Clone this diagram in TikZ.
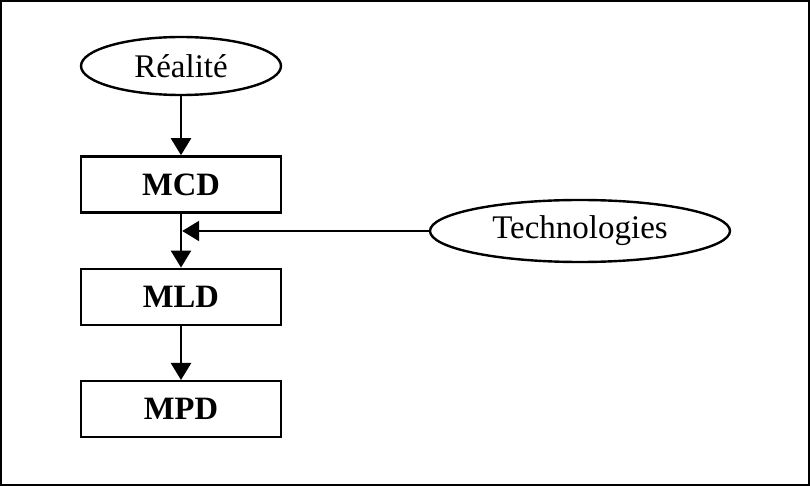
\documentclass[tikz,border=0pt]{standalone}
\usepackage{fontspec}
\setmainfont{Liberation Serif}
\usetikzlibrary{positioning, arrows.meta, shapes}
\tikzset{>={Triangle[length=8.5pt,width=10pt]}}
\tikzset{
    modele/.style={draw, line width=1.2pt, minimum width=100pt, minimum height=28pt, inner sep=0pt, font=\fontsize{16.3}{19}\selectfont\bfseries},
    source/.style={draw, ellipse, line width=1.2pt, inner sep=0pt, font=\fontsize{16.5}{19}\selectfont},
    fleche/.style={->, line width=1.2pt}
}

\begin{document}
\begin{tikzpicture}[x=1pt, y=1pt, node distance=27pt]
    \useasboundingbox (0,0) rectangle (405,-243);
    \draw[line width=0.8pt] (0.4,-0.4) rectangle (404.6,-242.6);

    \node[source, minimum width=100pt, minimum height=29pt] (realite) at (90.5,-33) {Réalité};
    \node[modele, below=29.5pt of realite] (mcd) {MCD};
    \node[modele, below=of mcd] (mld) {MLD};
    \node[modele, below=of mld] (mpd) {MPD};

    \node[source, minimum width=150pt, minimum height=31pt] (techno) at (290,-115.5) {Technologies};
    \coordinate (jonction) at (mcd.south |- techno.west);

    \draw[fleche] (realite) -- (mcd);
    \draw[fleche] (mcd) -- (mld);
    \draw[fleche] (mld) -- (mpd);
    \draw[fleche] (techno) -- ([xshift=0.6pt]jonction);
\end{tikzpicture}
\end{document}
